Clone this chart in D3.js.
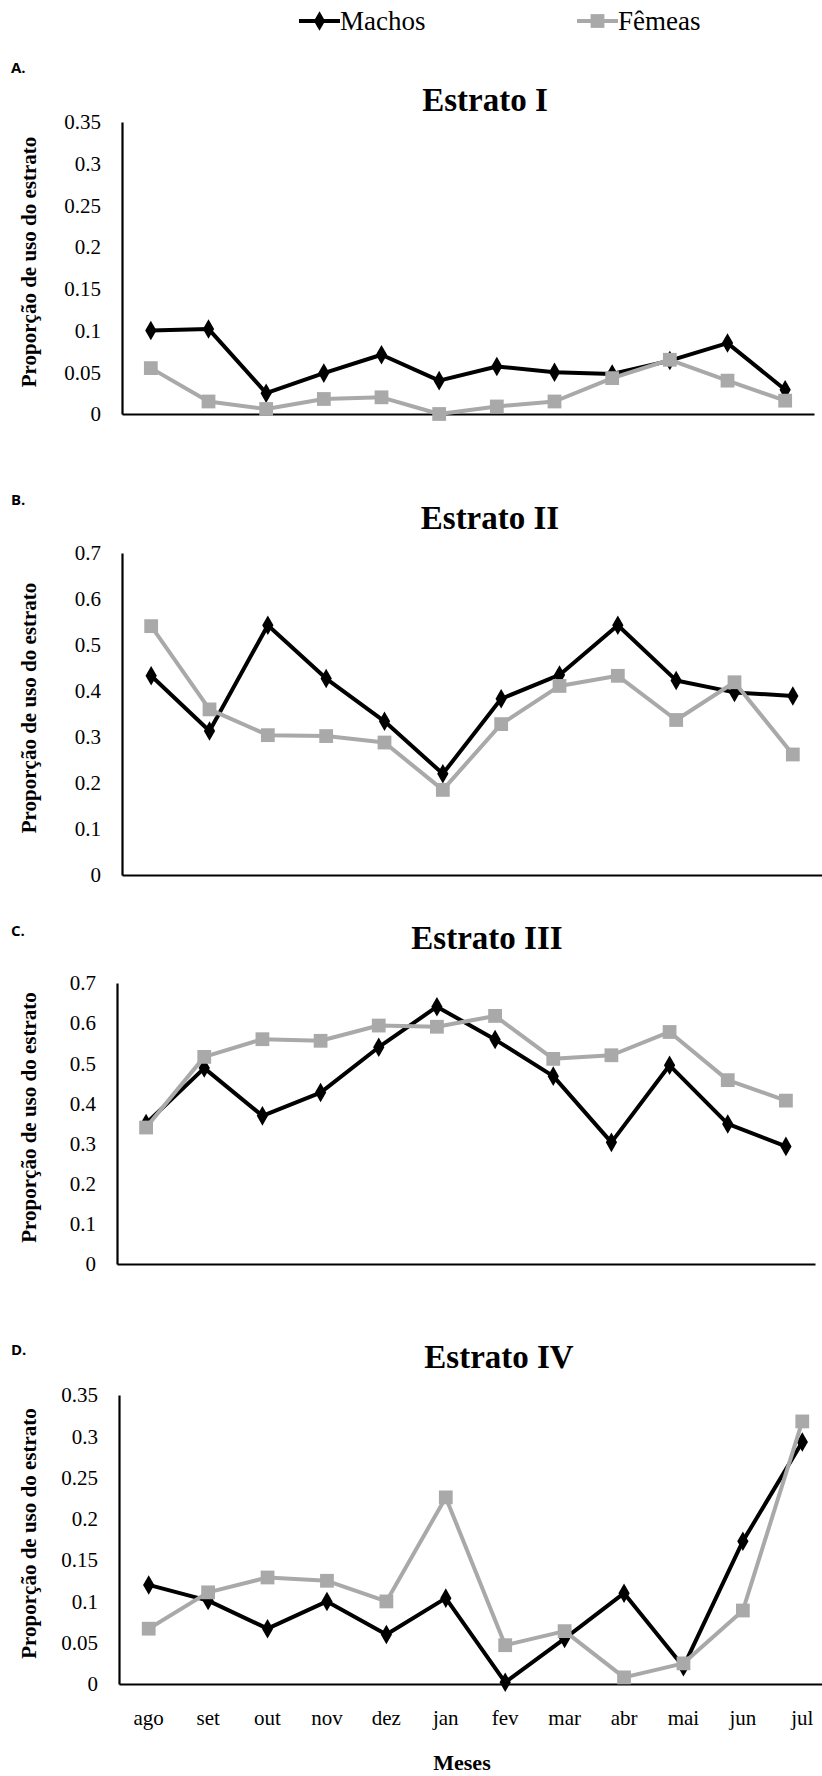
<!DOCTYPE html>
<html>
<head>
<meta charset="utf-8">
<script src="https://cdn.jsdelivr.net/npm/d3@7"></script>
<style>
  body { margin: 0; background: #fff; }
  svg { display: block; }
</style>
</head>
<body>
<div id="chart"></div>
<script>
// meses
var months = ['ago', 'set', 'out', 'nov', 'dez', 'jan', 'fev', 'mar', 'abr', 'mai', 'jun', 'jul'];

// Estrato I
var machosI = [0.100, 0.102, 0.025, 0.049, 0.071, 0.040, 0.057, 0.050, 0.048, 0.064, 0.085, 0.029];
var femeasI = [0.055, 0.015, 0.006, 0.018, 0.020, 0.000, 0.009, 0.015, 0.043, 0.065, 0.040, 0.016];
// Estrato II
var machosII = [0.433, 0.313, 0.543, 0.427, 0.334, 0.220, 0.383, 0.435, 0.543, 0.423, 0.397, 0.389];
var femeasII = [0.541, 0.360, 0.304, 0.302, 0.288, 0.185, 0.328, 0.411, 0.433, 0.337, 0.419, 0.262];
// Estrato III
var machosIII = [0.350, 0.488, 0.369, 0.427, 0.540, 0.641, 0.559, 0.468, 0.303, 0.495, 0.349, 0.293];
var femeasIII = [0.340, 0.516, 0.560, 0.556, 0.594, 0.591, 0.618, 0.511, 0.520, 0.578, 0.458, 0.407];
// Estrato IV
var machosIV = [0.120, 0.101, 0.067, 0.100, 0.060, 0.104, 0.002, 0.055, 0.110, 0.021, 0.173, 0.293];
var femeasIV = [0.067, 0.111, 0.129, 0.125, 0.100, 0.226, 0.047, 0.064, 0.008, 0.025, 0.089, 0.318];

var ticksSmall = ['0', '0.05', '0.1', '0.15', '0.2', '0.25', '0.3', '0.35'];
var ticksLarge = ['0', '0.1', '0.2', '0.3', '0.4', '0.5', '0.6', '0.7'];

var seriesNames = ['Machos', 'Fêmeas'];

var width = 822, height = 1776;
var serif = '"Liberation Serif", "Times New Roman", serif';
var black = '#000', grey = '#a9a9a9';

var svg = d3.select('#chart').append('svg')
  .attr('width', width)
  .attr('height', height);

// painéis
var panels = [
  { letter: 'A.', title: 'Estrato I', m: machosI, f: femeasI, ticks: ticksSmall, max: 0.35,
    x0: 122, x1: 814, top: 122, bottom: 414, titleX: 485, titleY: 111, letterY: 73 },
  { letter: 'B.', title: 'Estrato II', m: machosII, f: femeasII, ticks: ticksLarge, max: 0.7,
    x0: 122, x1: 822, top: 553, bottom: 875, titleX: 490, titleY: 529, letterY: 505 },
  { letter: 'C.', title: 'Estrato III', m: machosIII, f: femeasIII, ticks: ticksLarge, max: 0.7,
    x0: 117, x1: 815, top: 983, bottom: 1264, titleX: 487, titleY: 949, letterY: 936 },
  { letter: 'D.', title: 'Estrato IV', m: machosIV, f: femeasIV, ticks: ticksSmall, max: 0.35,
    x0: 119, x1: 832, top: 1395, bottom: 1684, titleX: 499, titleY: 1368, letterY: 1355, months: true }
];

var diamond = d3.symbol().type(d3.symbolDiamond).size(110);
var square = d3.symbol().type(d3.symbolSquare).size(190);

panels.forEach(function (p) {
  var g = svg.append('g');

  var x = d3.scaleBand().domain(months).range([p.x0, p.x1]);
  var y = d3.scaleLinear().domain([0, p.max]).range([p.bottom, p.top]);

  g.append('text')
    .attr('x', 11)
    .attr('y', p.letterY)
    .style('font-family', '"Open Sans", "Liberation Sans", sans-serif')
    .style('font-weight', 700)
    .style('font-size', '15px')
    .text(p.letter);

  g.append('text')
    .attr('x', p.titleX)
    .attr('y', p.titleY)
    .attr('text-anchor', 'middle')
    .style('font-family', serif)
    .style('font-weight', 700)
    .style('font-size', '33px')
    .text(p.title);

  // eixo y
  var yAxis = d3.axisLeft(y)
    .tickValues(p.ticks.map(Number))
    .tickFormat(function (d, i) { return p.ticks[i]; })
    .tickSize(0)
    .tickPadding(21);
  var ya = g.append('g')
    .attr('transform', 'translate(' + p.x0 + ',0)')
    .call(yAxis);
  ya.select('.domain').attr('stroke-width', 2.2);
  ya.selectAll('text')
    .style('font-family', serif)
    .style('font-size', '21px')
    .attr('fill', '#000');

  // eixo x
  var xAxis = d3.axisBottom(x).tickSize(0).tickPadding(26);
  if (!p.months) xAxis.tickFormat('');
  var xa = g.append('g')
    .attr('transform', 'translate(0,' + p.bottom + ')')
    .call(xAxis);
  xa.select('.domain').attr('stroke-width', 2.2);
  xa.selectAll('text')
    .style('font-family', serif)
    .style('font-size', '21px')
    .attr('fill', '#000');

  g.append('text')
    .attr('transform', 'translate(36,' + ((p.top + p.bottom) / 2 - 6) + ') rotate(-90)')
    .attr('text-anchor', 'middle')
    .style('font-family', serif)
    .style('font-weight', 700)
    .style('font-size', '21px')
    .text('Proporção de uso do estrato');

  var line = d3.line()
    .x(function (d, i) { return x(months[i]) + x.bandwidth() / 2; })
    .y(function (d) { return y(d); });

  // machos
  g.append('path')
    .datum(p.m)
    .attr('fill', 'none')
    .attr('stroke', black)
    .attr('stroke-width', 4)
    .attr('stroke-linejoin', 'round')
    .attr('d', line);
  g.selectAll('.machos')
    .data(p.m)
    .enter().append('path')
    .attr('class', 'machos')
    .attr('transform', function (d, i) {
      return 'translate(' + (x(months[i]) + x.bandwidth() / 2) + ',' + y(d) + ')';
    })
    .attr('d', diamond)
    .attr('fill', black);

  // fêmeas
  g.append('path')
    .datum(p.f)
    .attr('fill', 'none')
    .attr('stroke', grey)
    .attr('stroke-width', 4)
    .attr('stroke-linejoin', 'round')
    .attr('d', line);
  g.selectAll('.femeas')
    .data(p.f)
    .enter().append('path')
    .attr('class', 'femeas')
    .attr('transform', function (d, i) {
      return 'translate(' + (x(months[i]) + x.bandwidth() / 2) + ',' + y(d) + ')';
    })
    .attr('d', square)
    .attr('fill', grey);

  if (p.months) {
    g.append('text')
      .attr('x', 462)
      .attr('y', 1770)
      .attr('text-anchor', 'middle')
      .style('font-family', serif)
      .style('font-weight', 700)
      .style('font-size', '22px')
      .text('Meses');
  }
});

// legenda
var legend = svg.selectAll('.legendCells')
  .data(seriesNames)
  .enter().append('g')
  .attr('class', 'legendCells')
  .attr('transform', function (d, i) { return 'translate(' + (299 + i * 278) + ',21)'; });

legend.append('line')
  .attr('x1', 0).attr('x2', 41)
  .attr('stroke', function (d, i) { return i ? grey : black; })
  .attr('stroke-width', 4);

legend.append('path')
  .attr('transform', 'translate(20.5,0)')
  .attr('d', function (d, i) { return i ? square() : diamond(); })
  .attr('fill', function (d, i) { return i ? grey : black; });

legend.append('text')
  .attr('x', 41)
  .attr('y', 9)
  .style('font-family', serif)
  .style('font-size', '27px')
  .text(function (d) { return d; });
</script>
</body>
</html>
